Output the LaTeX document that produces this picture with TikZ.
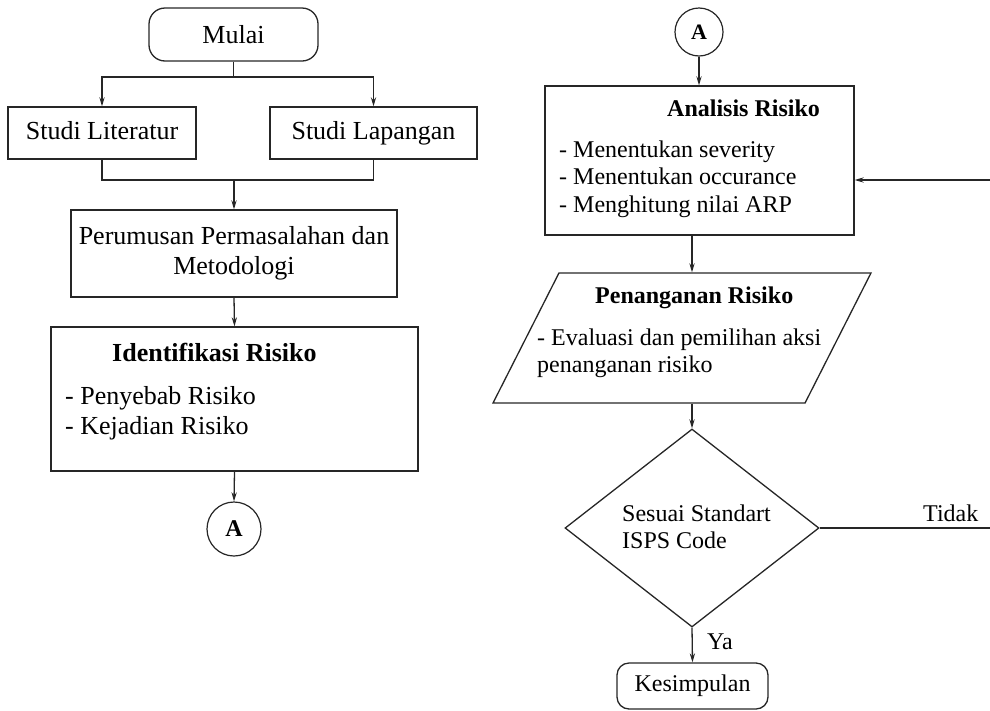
\documentclass[tikz,border=0pt]{standalone}
\usepackage{fontspec}
\setmainfont{Liberation Serif}
\usetikzlibrary{arrows.meta,shapes.geometric}
\definecolor{cInk}{HTML}{262626}

\begin{document}
\begin{tikzpicture}[x=1pt,y=-1pt,
  >={Stealth[length=9pt,width=5.2pt]},
  box/.style={rectangle, draw=cInk, line width=1.3pt, inner sep=0pt, align=center},
  term/.style={box, rounded corners=#1},
  conn/.style={circle, draw=cInk, line width=1.2pt, inner sep=0pt},
  flow/.style={->, line width=1.3pt, draw=cInk},
  link/.style={line width=1.3pt, draw=cInk},
  lt/.style={font=\fontsize{26}{30}\selectfont},
  rt/.style={font=\fontsize{24}{27.5}\selectfont},
  ltxt/.style={lt, inner sep=0pt, anchor=base west},
  rtxt/.style={rt, inner sep=0pt, anchor=base west},
]
\useasboundingbox (0,0) rectangle (990,710);
\clip (0,0) rectangle (990,710);

% =================== LEFT COLUMN ===================
\node[term=16pt, lt, minimum width=169pt, minimum height=53pt] (mulai) at (233.5,34.5) {Mulai};

\node[box, lt, text height=18pt, text depth=6pt, minimum width=188pt, minimum height=52pt] (lit) at (102,133) {Studi Literatur};
\node[box, lt, text height=18pt, text depth=6pt, minimum width=207pt, minimum height=52pt] (lap) at (373.5,133) {Studi Lapangan};

\node[box, lt, minimum width=326pt, minimum height=87pt] (rumus) at (234,253.5)
 {Perumusan Permasalahan dan\\ Metodologi};

\node[box, minimum width=367pt, minimum height=144pt] (idf) at (234.5,399) {};
\node[ltxt, font=\bfseries\fontsize{26}{30}\selectfont] (idft) at (112,361) {Identifikasi Risiko};
\node[ltxt] (idf1) at (65,404) {- Penyebab Risiko};
\node[ltxt] (idf2) at (65,434) {- Kejadian Risiko};

\node[conn, minimum size=54pt, font=\bfseries\fontsize{24}{26}\selectfont] (ca1) at (234,529) {A};

\coordinate (split) at (233.5,77);
\coordinate (join) at (234,180);
\draw[link] (mulai.south) -- (split);
\draw[flow] (split) -| (lit.north);
\draw[flow] (split) -| (lap.north);
\draw[link] (lit.south) |- (join) -| (lap.south);
\draw[flow] (join) -- (rumus.north);
\draw[flow] (rumus.south) -- (idf.north);
\draw[flow] (idf.south) -- (ca1.north);

% =================== RIGHT COLUMN ===================
\node[conn, minimum size=48pt, font=\bfseries\fontsize{22}{24}\selectfont] (ca2) at (699,32) {A};

\node[box, minimum width=309pt, minimum height=149pt] (ana) at (699.5,160.5) {};
\node[rtxt, font=\bfseries\fontsize{24}{27.5}\selectfont] (anat) at (667,116) {Analisis Risiko};
\node[rtxt] (ana1) at (559,157) {- Menentukan severity};
\node[rtxt] (ana2) at (559,184) {- Menentukan occurance};
\node[rtxt] (ana3) at (559,212) {- Menghitung nilai ARP};

\node[trapezium, draw=cInk, line width=1.3pt, inner sep=0pt,
      trapezium left angle=70, trapezium right angle=110, trapezium stretches=true,
      minimum width=378pt, minimum height=130pt] (pen) at (682,338) {\phantom{M}};
\node[rtxt, font=\bfseries\fontsize{24}{27.5}\selectfont] (pent) at (595,303) {Penanganan Risiko};
\node[rtxt] (pen1) at (537,345) {- Evaluasi dan pemilihan aksi};
\node[rtxt] (pen2) at (537,372) {penanganan risiko};

\node[diamond, draw=cInk, line width=1.3pt, inner sep=0pt,
      minimum width=254pt, minimum height=198pt] (dec) at (692,528) {};
\node[rtxt] (dec1) at (622,521) {Sesuai Standart};
\node[rtxt] (dec2) at (622,548) {ISPS Code};

\node[term=12pt, rt, minimum width=151pt, minimum height=46pt] (kes) at (692.5,686) {Kesimpulan};

\coordinate (back) at (1000,180);
\draw[flow] (ca2.south) -- (ca2.south |- ana.north);
\draw[flow] (dec.north |- ana.south) -- (dec.north |- pen.north);
\draw[flow] (dec.north |- pen.south) -- (dec.north);
\draw[flow] (dec.south) -- (kes.north);
\draw[flow] (dec.east) -| (back) -- (back -| ana.east);

\node[rtxt] (tidak) at (923,521) {Tidak};
\node[rtxt] (ya) at (707,649) {Ya};

\end{tikzpicture}
\end{document}
